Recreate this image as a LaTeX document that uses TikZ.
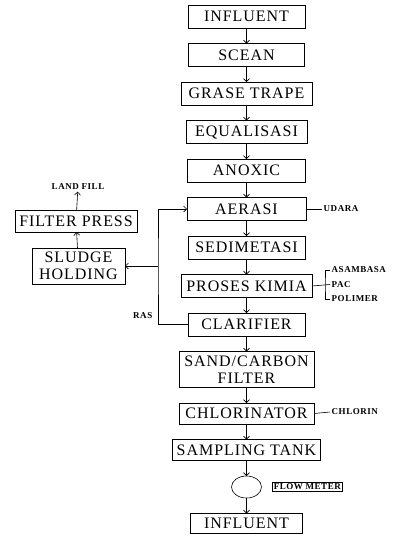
\documentclass[tikz,border=0pt]{standalone}
\usepackage{fontspec}
\setmainfont{Liberation Serif}[LetterSpace=6]
\usetikzlibrary{arrows.meta, positioning, shapes.geometric}

\begin{document}
\begin{tikzpicture}[
  x=1pt, y=1pt,
  node distance=15.5pt,
  box/.style={
    draw, line width=0.8pt, outer sep=0pt,
    minimum height=23pt, inner xsep=1.5pt, inner ysep=2pt,
    font=\fontsize{16}{17}\selectfont, align=center,
  },
  lbl/.style={font=\fontsize{9}{10}\selectfont\bfseries, inner sep=1.5pt},
  arr/.style={-{Straight Barb[length=3pt,width=6pt]}, line width=0.6pt},
  ln/.style={line width=0.6pt},
]
\useasboundingbox (0,0) rectangle (398,-536);
% main treatment line
\node[box, minimum width=117pt] (inf)   at (246.5,-16.5) {INFLUENT};
\node[box, minimum width=116pt] (scean) [below=of inf]   {SCEAN};
\node[box, minimum width=131pt] (grase) [below=of scean] {GRASE TRAPE};
\node[box, minimum width=121pt] (equal) [below=of grase] {EQUALISASI};
\node[box, minimum width=118pt] (anox)  [below=of equal] {ANOXIC};
\node[box, minimum width=119pt] (aer)   [below=of anox]  {AERASI};
\node[box, minimum width=117pt] (sedi)  [below=of aer]   {SEDIMETASI};
\node[box, minimum width=131pt] (kimia) [below=of sedi]  {PROSES KIMIA};
\node[box, minimum width=117pt] (clar)  [below=of kimia] {CLARIFIER};
\node[box, minimum width=135pt, minimum height=36pt] (sand) [below=of clar] {SAND/CARBON\\FILTER};
\node[box, minimum width=135pt, minimum height=21pt] (chlor) [below=of sand] {CHLORINATOR};
\node[box, minimum width=148pt, minimum height=21pt] (samp) [below=of chlor] {SAMPLING TANK};
\node[draw, ellipse, ln, outer sep=0pt, minimum width=30pt, minimum height=22pt, inner sep=0pt] (meter) [below=of samp] {};
\node[box, minimum width=112pt, minimum height=20pt] (out) [below=of meter] {INFLUENT};

% sludge side
\node[box, minimum width=122pt, minimum height=22pt] (press) at (76,-221) {FILTER PRESS};
\node[box, minimum width=93pt, minimum height=36pt] (sludge) at (78.5,-266) {SLUDGE\\HOLDING};
\node[lbl] (fill) at (78,-187) {LAND FILL};
\coordinate (ret) at (158,-266);

% labels
\node[lbl, anchor=west] (udara) at (322,-209) {UDARA};
\node[lbl, anchor=west] (asam) at (330,-270) {ASAMBASA};
\node[lbl, anchor=west] (pac) at (330,-284.5) {PAC};
\node[lbl, anchor=west] (pol) at (330,-299) {POLIMER};
\coordinate (br) at (325,-284.5);
\node[lbl, anchor=west] (chl) at (330,-412) {CHLORIN};
\node[lbl, draw, line width=0.5pt, anchor=west] (flow) at (272,-487) {FLOW METER};
\node[lbl, anchor=east] (ras) at (154,-316) {RAS};

\draw[arr] (inf) -- (scean);
\draw[arr] (scean) -- (grase);
\draw[arr] (grase) -- (equal);
\draw[arr] (equal) -- (anox);
\draw[arr] (anox) -- (aer);
\draw[arr] (aer) -- (sedi);
\draw[arr] (sedi) -- (kimia);
\draw[arr] (kimia) -- (clar);
\draw[arr] (clar) -- (sand);
\draw[arr] (sand) -- (chlor);
\draw[arr] (chlor) -- (samp);
\draw[arr] (samp) -- (meter);
\draw[arr] (meter) -- (out);

\draw[arr] (clar.west) -| (ret) |- (aer.west);
\draw[arr] (ret) -- (sludge.east);
\draw[arr] (sludge) -- (press);
\draw[arr] (press) -- (fill);

\draw[ln] (aer.east) -- (udara.west);
\draw[ln] (kimia.east) -- (pac.west);
\draw[ln] (asam.west) -| (br) |- (pol.west);
\draw[ln] (chlor.east) -- (chl.west);
\end{tikzpicture}
\end{document}
